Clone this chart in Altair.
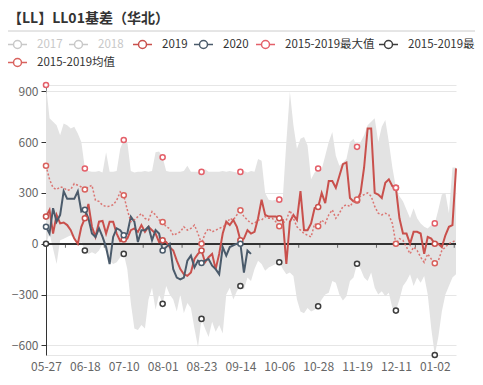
import json
import altair as alt
import pandas as pd

FONT = "Noto Sans CJK SC"
TITLE = "【LL】LL01基差（华北）"

# day index from 05-27 (0) to 01-14 (232), every 2 days
DAYS = list(range(0, 233, 2))
TICK_LABELS = ["05-27", "06-18", "07-10", "08-01", "08-23", "09-14",
               "10-06", "10-28", "11-19", "12-11", "01-02"]
LABEL_DAYS = [0, 22, 44, 66, 88, 110, 132, 154, 176, 198, 220]
TICK_DAYS = [11, 33, 55, 77, 99, 121, 143, 165, 187, 209, 231]

S2019 = [160, 200, 60, 170, 120, 125, 110, 80, 30, 0,
         100, 150, 235, 100, 40, 130, 135, 60, 130, 130,
         60, 15, 25, 30, 80, 90, 70, 110, 70, 100,
         80, 60, 10, 20, 10, -20, -40, -100, -150, -180,
         -190, -170, -90, -60, -40, -110, -80, -60, -150, -60,
         60, 130, 110, 140, 100, 20, 30, 80, 60, 70,
         150, 260, 170, 160, 160, 160, 150, 140, -120, 130,
         170, 140, 310, 80, 80, 120, 210, 217, 300, 240,
         370, 370, 330, 400, 470, 480, 270, 250, 255, 300,
         450, 680, 680, 300, 290, 270, 360, 380, 340, 330,
         150, 60, 60, 0, 70, 70, 60, -60, 40, 30,
         0, 0, -20, 50, 100, 110, 445]

S2020 = [100, 60, 210, 130, 170, 310, 265, 265, 265, 310,
         190, 200, 150, 60, 40, 90, 40, -20, -120, 40,
         90, 80, 50, 60, 160, 130, 10, 80, 80, 100,
         20, 80, 60, -40, -20, 0, -150, -200, -210, -200,
         -100, -70, -140, -100, -114, -100, -90, -130, -150, -180,
         -20, -70, -20, -10, 0, 0, -170, -40, -60]

SMAX = [937, 740, 720, 700, 640, 710, 700, 680, 690, 650,
        600, 444, 430, 425, 425, 430, 420, 540, 425, 425,
        430, 560, 612, 600, 430, 420, 425, 425, 430, 425,
        430, 540, 545, 510, 430, 425, 425, 425, 425, 430,
        460, 425, 425, 425, 424, 440, 425, 425, 425, 425,
        430, 425, 430, 425, 420, 424, 430, 420, 430, 425,
        500, 490, 300, 260, 255, 260, 260, 270, 600, 897,
        700, 560, 620, 630, 580, 380, 420, 444, 440, 520,
        600, 660, 520, 460, 480, 500, 600, 620, 572, 600,
        640, 700, 720, 741, 600, 690, 730, 600, 450, 330,
        280, 250, 200, 150, 210, 150, 120, 100, 90, 110,
        120, 200, 290, 300, 180, 450, 450]

SMIN = [0, 60, -30, -120, 20, 30, 40, 50, 30, -10,
        10, -40, -60, -50, -60, -40, 0, -50, -100, -120,
        -110, -80, -60, -150, -350, -500, -510, -480, -500, -330,
        -260, -390, -300, -355, -250, -300, -330, -400, -300, -410,
        -350, -380, -500, -610, -444, -500, -550, -460, -520, -480,
        -530, -300, -260, -330, -280, -250, -270, -200, -220, -150,
        -100, -120, -160, -140, -130, -120, -109, -150, -180, -170,
        -190, -330, -400, -410, -380, -400, -390, -369, -330, -300,
        -290, -220, -230, -300, -335, -310, -220, -200, -118, -150,
        -200, -220, -170, -260, -300, -280, -310, -290, -380, -395,
        -330, -250, -220, -180, -250, -200, -230, -190, -300, -500,
        -657, -550, -400, -300, -250, -200, -180]

SMEAN = [460, 380, 330, 320, 335, 330, 315, 320, 355, 345,
         335, 320, 335, 345, 256, 250, 227, 220, 221, 230,
         256, 306, 286, 200, 130, 140, 160, 178, 150, 140,
         190, 170, 140, 128, 100, 90, 50, 60, 70, 100,
         80, 90, 110, 60, 0, 60, 90, 70, 80, 90,
         100, 110, 150, 140, 170, 197, 160, 140, 120, 120,
         140, 140, 160, 150, 150, 130, 103, 120, 140, 197,
         150, 100, 80, 60, 50, 40, 118, 103, 140, 120,
         170, 200, 150, 180, 220, 230, 220, 250, 260, 280,
         290, 300, 280, 220, 180, 170, 180, 170, 120, 0,
         30, 20, -20, -60, -20, -40, -80, -110, -60, -90,
         -115, -100, -40, -20, 0, 10, 20]

SERIES = ["2017", "2018", "2019", "2020", "2015-2019最大值", "2015-2019最小值", "2015-2019均值"]
COLORS = ["#c8c8c8", "#c8c8c8", "#c9504c", "#4b5b6b", "#e4606a", "#3d3d3d", "#d9625e"]
VALUES = [[], [], S2019, S2020, SMAX, SMIN, SMEAN]

# legend layout (pixel offsets from the plot's top-left corner)
LEG_X = [-39, 22, 86, 147, 209, 332, -39]
LEG_Y = [-51, -51, -51, -51, -51, -51, -33]

rows = []
for name, vals in zip(SERIES, VALUES):
    for d, v in zip(DAYS, vals):
        rows.append({"day": d, "value": v, "series": name})
df = pd.DataFrame(rows)
band_df = pd.DataFrame({"day": DAYS, "hi": SMAX, "lo": SMIN})

ymin = min(SMIN + S2019 + S2020)
ymax = max(SMAX + S2019 + S2020)

xscale = alt.Scale(domain=[DAYS[0], DAYS[-1]], nice=False, zero=False)
xaxis = alt.Axis(values=LABEL_DAYS, tickCount=40,
                 labelExpr=json.dumps(TICK_LABELS).replace('"', "'") + "[round(datum.value/22)]",
                 domain=False, ticks=False, grid=False, title=None, labelPadding=6,
                 labelColor="#666666", labelFontSize=12, labelFont=FONT, labelFlush=False,
                 labelOverlap=False)
yscale = alt.Scale(domain=[ymin, ymax], nice=False, zero=False)
yaxis = alt.Axis(values=[ymin, -600, -300, 0, 300, 600, 900, ymax], tickCount=40,
                 labelExpr="datum.value % 300 == 0 ? datum.label : ''",
                 title=None, domainColor="#333333", tickColor="#333333", tickSize=5,
                 tickOpacity={"condition": {"test": "datum.value % 300 != 0", "value": 0}, "value": 1},
                 labelPadding=3, labelColor="#666666", labelFontSize=12, labelFont=FONT,
                 gridColor="#e6e6e6", labelFlush=False, labelOverlap=False)

SYM = "M-1,0L-0.42,0M0.42,0L1,0M-0.42,0A0.42,0.42,0,1,1,0.42,0A0.42,0.42,0,1,1,-0.42,0"

X = alt.X("day:Q", scale=xscale, axis=xaxis)
Yv = alt.Y("value:Q", scale=yscale, axis=yaxis)

band = alt.Chart(band_df).mark_area(color="#e3e3e3", interpolate="linear").encode(
    x=X, y=alt.Y("hi:Q", scale=yscale, axis=yaxis), y2="lo:Q")

zero_rule = alt.Chart(band_df).mark_rule(color="#333333", strokeWidth=1).encode(y=alt.datum(0))

ticks = alt.Chart(pd.DataFrame({"day": TICK_DAYS})).mark_tick(
    orient="vertical", size=4, thickness=1, color="#333333", yOffset=2).encode(x=X, y=alt.datum(0))

pt_style = dict(shape="circle", filled=False, fill="white", fillOpacity=1, opacity=1, size=26, strokeWidth=1.5)

line_layers = []
point_layers = []
for i, name in enumerate(SERIES):
    sc = alt.Scale(domain=[name], range=[COLORS[i]])
    lab_color = "#c8c8c8" if name in ("2017", "2018") else "#333333"
    leg = alt.Legend(orient="none", legendX=LEG_X[i], legendY=LEG_Y[i], direction="horizontal",
                     symbolType=SYM, symbolSize=361, symbolStrokeWidth=1.5, symbolFillColor="white",
                     labelOffset=9, padding=0, title=None, labelFontSize=11.5, labelFont=FONT,
                     labelColor=lab_color)
    base = alt.Chart(df).transform_filter(alt.datum.series == name)
    if name == "2015-2019均值":
        line_layers.append(base.mark_line(strokeWidth=1.5, strokeDash=[2, 2], opacity=0.85).encode(
            x=X, y=Yv, color=alt.Color("series:N", scale=sc, legend=None)))
    elif name in ("2019", "2020"):
        line_layers.append(base.mark_line(strokeWidth=2).encode(
            x=X, y=Yv, color=alt.Color("series:N", scale=sc, legend=None), order="day:Q"))
    point_layers.append(base.transform_filter("datum.day % 22 == 0").mark_point(**pt_style).encode(
        x=X, y=Yv, color=alt.Color("series:N", scale=sc, legend=leg)))

title_txt = alt.Chart(pd.DataFrame({"t": [TITLE]})).mark_text(
    align="left", baseline="middle", fontSize=14, fontWeight="bold", font=FONT, color="#333333").encode(
    text="t:N", x=alt.value(-38), y=alt.value(-66))

sep = alt.Chart(pd.DataFrame({"t": [TITLE]})).mark_rule(color="#cccccc", strokeWidth=1).encode(
    x=alt.value(-38), x2=alt.value(429), y=alt.value(-54))

chart = alt.layer(band, zero_rule, ticks, *line_layers, *point_layers,
                  title_txt, sep).resolve_scale(
    color="independent"
).properties(
    width=410, height=270,
    autosize=alt.AutoSizeParams(type="none"),
    padding={"left": 38, "top": 77, "right": 19, "bottom": 18},
).configure_view(stroke=None)

chart.save("out.html", embed_options={"renderer": "svg", "actions": False})
